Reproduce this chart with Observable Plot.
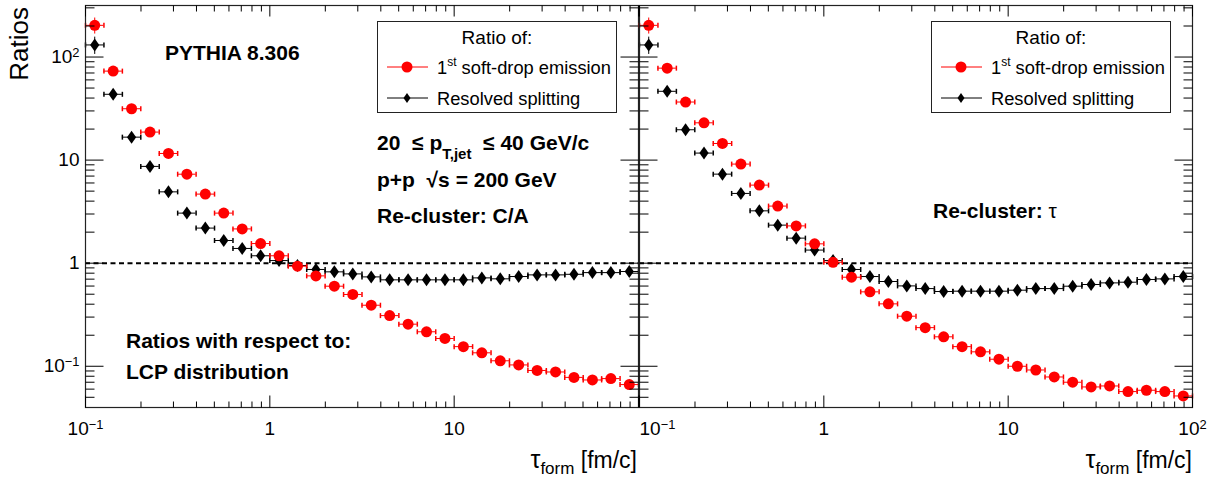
<!DOCTYPE html>
<html><head><meta charset="utf-8">
<script src="https://cdn.jsdelivr.net/npm/d3@7"></script>
<script src="https://cdn.jsdelivr.net/npm/@observablehq/plot@0.6"></script>
<style>
body{margin:0;background:#fff}
#wrap{position:relative;width:1221px;height:479px;font-family:"Liberation Sans",Arial,Helvetica,sans-serif}
#wrap svg{position:absolute;top:0;overflow:visible}
</style>
</head><body><div id="wrap"></div>
<script>
// ---- data ----
const binEdges = [0.1, 0.1259, 0.1585, 0.1995, 0.2512, 0.3162, 0.3981, 0.5012, 0.631, 0.7943,
  1, 1.259, 1.585, 1.995, 2.512, 3.162, 3.981, 5.012, 6.31, 7.943,
  10, 12.59, 15.85, 19.95, 25.12, 31.62, 39.81, 50.12, 63.1, 79.43, 100];

const caSoftDrop = [203, 73, 31.5, 18.7, 11.6, 7.3, 4.68, 3.06, 2.15, 1.55, 1.18, 0.935, 0.753, 0.598, 0.497,
  0.391, 0.31, 0.256, 0.216, 0.186, 0.155, 0.135, 0.113, 0.103, 0.091, 0.088, 0.078, 0.0736, 0.0759, 0.0664];
const caResolved = [131, 43.5, 16.7, 8.69, 4.92, 3.06, 2.19, 1.66, 1.39, 1.18, 1.06, 0.95, 0.869, 0.824, 0.787,
  0.736, 0.689, 0.689, 0.689, 0.689, 0.689, 0.72, 0.705, 0.742, 0.77, 0.77, 0.78, 0.81, 0.81, 0.83];
const tauSoftDrop = [203, 78, 36.6, 23, 14.5, 9.15, 5.72, 3.58, 2.3, 1.54, 1.02, 0.731, 0.527, 0.403, 0.306,
  0.237, 0.193, 0.155, 0.138, 0.117, 0.1, 0.092, 0.0787, 0.07, 0.063, 0.0644, 0.0568, 0.0585, 0.0568, 0.0515];
const tauResolved = [131, 46.5, 19.7, 11.7, 7.31, 4.75, 3.22, 2.34, 1.75, 1.34, 1.06, 0.869, 0.742, 0.664, 0.602,
  0.567, 0.531, 0.535, 0.535, 0.535, 0.547, 0.567, 0.567, 0.598, 0.621, 0.644, 0.654, 0.695, 0.704, 0.742];

const softDropErr = [36, 1.5, 0.5, 0.3, 0.2, 0, 0, 0, 0, 0, 0, 0, 0, 0, 0, 0, 0, 0, 0, 0, 0, 0, 0, 0, 0, 0, 0, 0, 0, 0];
const resolvedErr = [25, 1.2, 0.4, 0.2, 0.1, 0, 0, 0, 0, 0, 0, 0, 0, 0, 0, 0, 0, 0, 0, 0, 0, 0, 0, 0, 0, 0, 0, 0, 0, 0];

const yMajorTicks = [0.1, 1, 10, 100];
const yMinorTicks = [0.05, 0.06, 0.07, 0.08, 0.09, 0.2, 0.3, 0.4, 0.5, 0.6, 0.7, 0.8, 0.9,
  2, 3, 4, 5, 6, 7, 8, 9, 20, 30, 40, 50, 60, 70, 80, 90, 200, 300];
const xMajorTicks = [0.1, 1, 10, 100];
const xMinorTicks = [0.2, 0.3, 0.4, 0.5, 0.6, 0.7, 0.8, 0.9, 2, 3, 4, 5, 6, 7, 8, 9, 20, 30, 40, 50, 60, 70, 80, 90];
const yTickLabels = {0.1: "10^−1", 1: "1", 10: "10", 100: "10^2"};
const xTickLabels = {0.1: "10^−1", 1: "1", 10: "10", 100: "10^2"};

// ---- helpers ----
function rows(values, errs) {
  return values.map((v, i) => ({lo: binEdges[i], hi: binEdges[i + 1], x: Math.sqrt(binEdges[i] * binEdges[i + 1]), y: v, err: errs[i]}));
}
const hTick = L => ({draw(ctx) { ctx.moveTo(0, 0); ctx.lineTo(L, 0); }});
const vTick = L => ({draw(ctx) { ctx.moveTo(0, 0); ctx.lineTo(0, L); }});
const capSym = {draw(ctx) { ctx.moveTo(0, -2.5); ctx.lineTo(0, 2.5); }};
const diamondSym = {draw(ctx) { ctx.moveTo(0, -6.5); ctx.lineTo(4.6, 0); ctx.lineTo(0, 6.5); ctx.lineTo(-4.6, 0); ctx.closePath(); }};
const FONT = '"Liberation Sans", Arial, Helvetica, sans-serif';

function tickMarks() {
  const o = {stroke: "black", fill: "none", strokeWidth: 1};
  return [
    Plot.dot(yMajorTicks, {...o, y: d => d, frameAnchor: "left", symbol: hTick(18)}),
    Plot.dot(yMinorTicks, {...o, y: d => d, frameAnchor: "left", symbol: hTick(9)}),
    Plot.dot(yMajorTicks, {...o, y: d => d, frameAnchor: "right", symbol: hTick(-18)}),
    Plot.dot(yMinorTicks, {...o, y: d => d, frameAnchor: "right", symbol: hTick(-9)}),
    Plot.dot(xMajorTicks, {...o, x: d => d, frameAnchor: "bottom", symbol: vTick(-12)}),
    Plot.dot(xMinorTicks, {...o, x: d => d, frameAnchor: "bottom", symbol: vTick(-6)}),
    Plot.dot(xMajorTicks, {...o, x: d => d, frameAnchor: "top", symbol: vTick(11)}),
    Plot.dot(xMinorTicks, {...o, x: d => d, frameAnchor: "top", symbol: vTick(6)})
  ];
}

function seriesMarks(data, color, symbol, r) {
  return [
    Plot.ruleY(data, {y: "y", x1: "lo", x2: "hi", stroke: color, strokeWidth: 1}),
    Plot.dot(data, {x: "lo", y: "y", symbol: capSym, stroke: color, fill: "none"}),
    Plot.dot(data, {x: "hi", y: "y", symbol: capSym, stroke: color, fill: "none"}),
    Plot.ruleX(data.filter(d => d.err > 0), {x: "x", y1: d => d.y - d.err, y2: d => d.y + d.err, stroke: color, strokeWidth: 1}),
    Plot.dot(data, {x: "x", y: "y", symbol, r, fill: color, stroke: "none"})
  ];
}

function panel({soft, res, width, marginLeft, marginRight, showY, xLabelTicks, firstLabelStart}) {
  const marks = [
    Plot.ruleY([1], {stroke: "black", strokeWidth: 2, strokeDasharray: "5,3.5"}),
    ...seriesMarks(rows(res, resolvedErr), "black", diamondSym, 3.6),
    ...seriesMarks(rows(soft, softDropErr), "#ff0000", "circle", 5.5),
    Plot.frame({stroke: "#222", strokeWidth: 1.2}),
    ...tickMarks(),
    Plot.axisX({ticks: xLabelTicks, tickSize: 0, tickPadding: 14, fontSize: 19, tickFormat: d => xTickLabels[d], label: null})
  ];
  if (firstLabelStart) {
    marks.push(Plot.text([0.1], {x: d => d, frameAnchor: "bottom", text: d => xTickLabels[d], textAnchor: "start", lineAnchor: "top", dy: 14, fontSize: 19}));
  }
  if (showY) {
    marks.push(Plot.axisY({ticks: yMajorTicks, tickSize: 0, tickPadding: 6, fontSize: 19, tickFormat: d => yTickLabels[d], label: null}));
  }
  return Plot.plot({
    width, height: 479,
    marginLeft, marginRight, marginTop: 5, marginBottom: 72,
    x: {type: "log", domain: [0.1, 100], axis: null},
    y: {type: "log", domain: [0.0398, 316.2], axis: null},
    style: {fontFamily: FONT, background: "transparent", overflow: "visible"},
    marks
  });
}

function fixSuper(svg) {
  d3.select(svg).selectAll("text").each(function () {
    const t = this.textContent;
    if (t.includes("^") && this.childElementCount === 0) {
      const [base, sup] = t.split("^");
      const s = d3.select(this);
      s.text(null);
      s.append("tspan").text(base);
      s.append("tspan").attr("dy", "-0.5em").attr("font-size", "0.68em").text(sup);
    }
  });
}

const wrap = document.getElementById("wrap");
const left = panel({soft: caSoftDrop, res: caResolved, width: 640, marginLeft: 85, marginRight: 2, showY: true, xLabelTicks: [0.1, 1, 10]});
left.style.left = "0px";
const right = panel({soft: tauSoftDrop, res: tauResolved, width: 621, marginLeft: 39, marginRight: 29, showY: false, xLabelTicks: [1, 10, 100], firstLabelStart: true});
right.style.left = "600px";
wrap.appendChild(left);
wrap.appendChild(right);
fixSuper(left); fixSuper(right);

// ---- annotations ----
const ov = d3.select(wrap).append("svg").attr("width", 1221).attr("height", 479)
  .style("left", "0px").style("pointer-events", "none")
  .attr("font-family", FONT);

function rich(x, y, parts, {size = 19, weight = "normal", anchor = "start"} = {}) {
  const t = ov.append("text").attr("x", x).attr("y", y).attr("font-size", size)
    .attr("font-weight", weight).attr("text-anchor", anchor).attr("fill", "black");
  let cur = 0;
  for (const p of parts) {
    const s = t.append("tspan").text(p.t);
    const target = p.shift || 0;
    if (target !== cur) { s.attr("dy", target - cur); cur = target; }
    if (p.size) s.attr("font-size", p.size);
    if (p.weight) s.attr("font-weight", p.weight);
  }
  return t;
}

// y title
ov.append("text").attr("transform", "translate(28,7) rotate(-90)").attr("text-anchor", "end")
  .attr("font-size", 26).text("Ratios");

// x titles
for (const xr of [637, 1192]) {
  rich(xr, 468, [{t: "τ", size: 25}, {t: "form", size: 17, shift: 6}, {t: "\u00A0[fm/c]", size: 23, shift: 0}], {anchor: "end", size: 23});
}

// legends
for (const dx of [0, 554]) {
  ov.append("rect").attr("x", 377.5 + dx).attr("y", 21.5).attr("width", 239).attr("height", 91)
    .attr("fill", "white").attr("stroke", "#222").attr("stroke-width", 1);
  rich(497 + dx, 44, [{t: "Ratio of:"}], {anchor: "middle"});
  ov.append("line").attr("x1", 387 + dx).attr("x2", 428 + dx).attr("y1", 67).attr("y2", 67).attr("stroke", "#ff0000");
  ov.append("circle").attr("cx", 407 + dx).attr("cy", 67).attr("r", 5.5).attr("fill", "#ff0000");
  rich(437 + dx, 74, [{t: "1"}, {t: "st", size: 12, shift: -8}, {t: "\u00A0soft-drop emission", shift: 0}], {size: 18.3});
  ov.append("line").attr("x1", 387 + dx).attr("x2", 428 + dx).attr("y1", 98).attr("y2", 98).attr("stroke", "black");
  ov.append("path").attr("d", "M0,-5L3.5,0L0,5L-3.5,0Z").attr("transform", `translate(${407 + dx},98)`).attr("fill", "black");
  rich(437 + dx, 105, [{t: "Resolved splitting"}], {size: 18.3});
}

// left texts
rich(165, 60, [{t: "PYTHIA 8.306"}], {size: 21, weight: "bold"});
rich(377, 150, [{t: "20\u00A0\u00A0≤\u00A0p"}, {t: "T,jet", size: 15, shift: 9}, {t: "\u00A0\u00A0≤ 40 GeV/c", shift: 0}], {size: 21, weight: "bold"});
rich(377, 187, [{t: "p+p\u00A0\u00A0√s = 200 GeV"}], {size: 21, weight: "bold"});
rich(377, 223, [{t: "Re-cluster: C/A"}], {size: 21, weight: "bold"});
rich(126, 348, [{t: "Ratios with respect to:"}], {size: 21, weight: "bold"});
rich(126, 379, [{t: "LCP distribution"}], {size: 21, weight: "bold"});
// right text
rich(933, 218, [{t: "Re-cluster: "}, {t: "τ", weight: "normal"}], {size: 21, weight: "bold"});
</script></body></html>
